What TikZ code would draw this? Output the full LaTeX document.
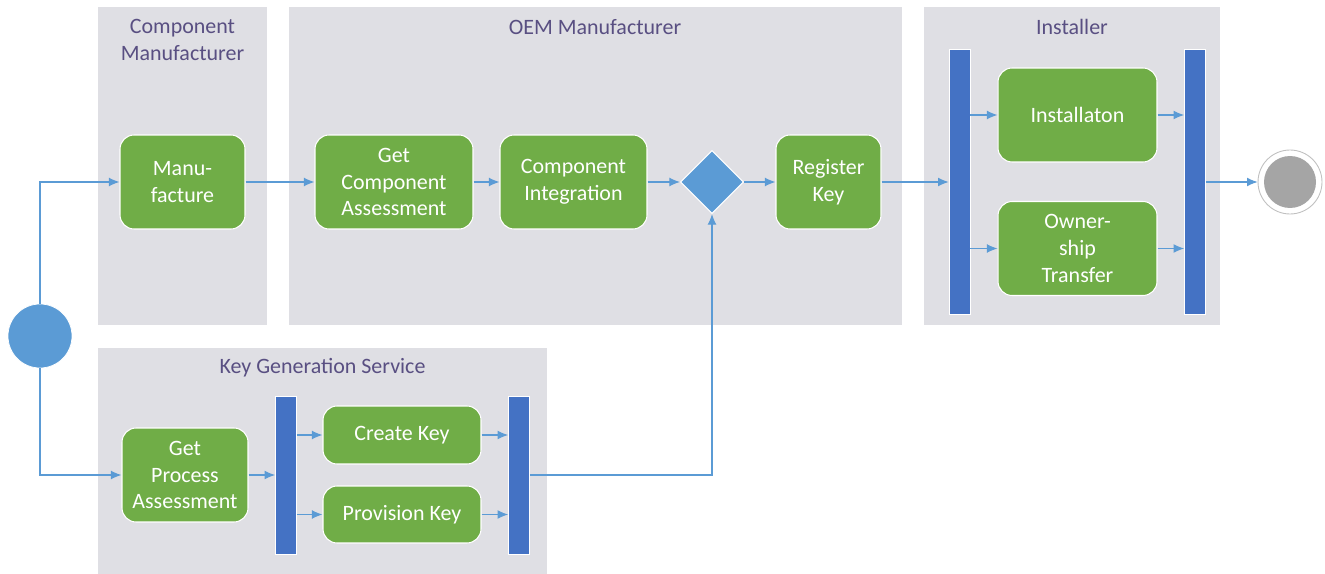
\documentclass[tikz,border=0pt]{standalone}
\usepackage{fontspec}
\setmainfont{Carlito}
\usepackage{tikz}
\usetikzlibrary{calc}
\usetikzlibrary{arrows.meta}
\usetikzlibrary{shapes.geometric}
\definecolor{lanegray}{HTML}{DFDFE4}
\definecolor{titlepurple}{HTML}{594F82}
\definecolor{taskgreen}{HTML}{70AD47}
\definecolor{barblue}{HTML}{4472C4}
\definecolor{flowblue}{HTML}{5B9BD5}
\definecolor{endgray}{HTML}{A5A5A5}
\tikzset{lane/.style = {fill=lanegray}}
\tikzset{lanetitle/.style = {text=titlepurple,align=center,font=\fontsize{12.5}{15.3}\selectfont}}
\tikzset{task/.style = {rectangle,rounded corners=8pt,fill=taskgreen,draw=white,line width=0.6pt,text=white,align=center,minimum height=1.88cm,inner sep=2pt,font=\fontsize{12.5}{15.3}\selectfont}}
\tikzset{bar/.style = {rectangle,fill=barblue,draw=white,line width=0.4pt,minimum width=0.42cm,inner sep=0pt}}
\tikzset{flow/.style = {draw=flowblue,line width=0.6pt,-{Latex[length=6pt,width=5pt]}}}

\begin{document}
\begin{tikzpicture}[x=0.02cm,y=-0.02cm]
            \useasboundingbox (0,0) rectangle (1325,574);

            % Lanes
            \fill[lane] (98,7) rectangle (267,325);
            \fill[lane] (289,7) rectangle (902,325);
            \fill[lane] (924,7) rectangle (1220,325);
            \fill[lane] (98,348) rectangle (547,574);
            \node[lanetitle] (cmtitle) at (182.5,40) {Component\\Manufacturer};
            \node[lanetitle] (oemtitle) at (595,27) {OEM Manufacturer};
            \node[lanetitle] (insttitle) at (1072,27) {Installer};
            \node[lanetitle] (kgstitle) at (322.5,368) {Key Generation Service};

            % Nodes
            \node[circle,fill=flowblue,draw=white,minimum size=1.28cm] (start) at (40,336) {};
            \node[task,minimum width=2.5cm] (manu) at (182.5,182) {Manu-\\facture};
            \node[task,minimum width=3.16cm] (getcomp) at (394,182) {Get\\Component\\Assessment};
            \node[task,minimum width=2.94cm] (integ) at (573.5,182) {Component\\Integration};
            \node[diamond,fill=flowblue,draw=white,line width=0.6pt,minimum width=1.26cm,minimum height=1.26cm,inner sep=0pt] (dec) at (712,182) {};
            \node[task,minimum width=2.1cm] (regkey) at (828.5,182) {Register\\Key};
            \node[bar,minimum height=5.3cm] (forkI) at (959.5,181.5) {};
            \node[task,minimum width=3.18cm] (install) at (1077.5,115) {Installaton};
            \node[task,minimum width=3.18cm] (owner) at (1077.5,248.5) {Owner-\\ship\\Transfer};
            \node[bar,minimum height=5.3cm] (joinI) at (1195,181.5) {};
            \node[circle,fill=white,draw=endgray!70,line width=0.5pt,minimum size=1.28cm] (finish) at (1290,182) {};
            \node[circle,fill=endgray,minimum size=1.04cm] (finishin) at (finish.center) {};

            \node[task,minimum width=2.52cm] (getproc) at (185,475) {Get\\Process\\Assessment};
            \node[bar,minimum height=3.16cm] (forkK) at (286,475) {};
            \node[task,minimum width=3.16cm,minimum height=1.16cm] (create) at (402,435) {Create Key};
            \node[task,minimum width=3.16cm,minimum height=1.14cm] (prov) at (402,514.5) {Provision Key};
            \node[bar,minimum height=3.16cm] (joinK) at (519,475) {};

            % Edges
            % start
            \draw[flow] (start) |- (manu);
            \draw[flow] (start) |- (getproc);

            % oem
            \draw[flow] (manu) -- (getcomp);
            \draw[flow] (getcomp) -- (integ);
            \draw[flow] (integ) -- (dec);
            \draw[flow] (dec) -- (regkey);
            \draw[flow] (regkey) -- (regkey -| forkI.west);

            % installer
            \draw[flow] (forkI.east |- install.west) -- (install.west);
            \draw[flow] (forkI.east |- owner.west) -- (owner.west);
            \draw[flow] (install.east) -- (install.east -| joinI.west);
            \draw[flow] (owner.east) -- (owner.east -| joinI.west);
            \draw[flow] (joinI.east |- finish) -- (finish);

            % key generation
            \draw[flow] (getproc) -- (getproc -| forkK.west);
            \draw[flow] (forkK.east |- create.west) -- (create.west);
            \draw[flow] (forkK.east |- prov.west) -- (prov.west);
            \draw[flow] (create.east) -- (create.east -| joinK.west);
            \draw[flow] (prov.east) -- (prov.east -| joinK.west);
            \draw[flow] (joinK) -| (dec);

        \end{tikzpicture}
\end{document}
